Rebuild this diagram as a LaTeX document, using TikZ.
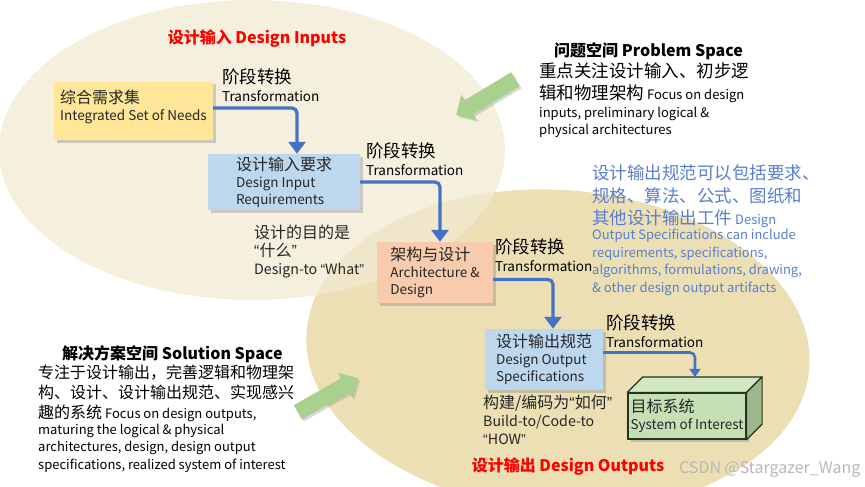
\documentclass[tikz,border=0pt]{standalone}
\usepackage{fontspec}
\setmainfont{Noto Sans CJK SC}
\newfontfamily\quotefont{Liberation Sans}
\usetikzlibrary{positioning, arrows.meta, shapes.arrows, shadows, calc}

\definecolor{inspacebg}{RGB}{242,235,210}
\definecolor{outspacebg}{RGB}{236,223,180}
\definecolor{needsfill}{RGB}{255,230,153}
\definecolor{reqfill}{RGB}{189,215,238}
\definecolor{archfill}{RGB}{248,203,173}
\definecolor{soifront}{RGB}{197,224,180}
\definecolor{soitop}{RGB}{210,232,196}
\definecolor{soiside}{RGB}{158,184,140}
\definecolor{soiline}{RGB}{34,52,34}
\definecolor{flowblue}{RGB}{68,114,196}
\definecolor{hintgreen}{RGB}{169,209,142}
\definecolor{specblue}{RGB}{88,126,210}

\newcommand{\zhbig}{\fontsize{17.5}{22}\selectfont}
\newcommand{\zhmid}{\fontsize{16}{20}\selectfont}
\newcommand{\enbox}{\fontsize{13.5}{17}\selectfont}
\newcommand{\entrans}{\fontsize{13.5}{18}\selectfont}
\newcommand{\enpara}{\fontsize{13}{17.5}\selectfont}
\newcommand{\ennote}{\fontsize{14.2}{18}\selectfont}
\newcommand{\headfont}{\bfseries\fontsize{16}{19}\selectfont}
\newcommand{\lquo}{{\quotefont “}}
\newcommand{\rquo}{{\quotefont ”}}

\tikzset{
    block/.style={inner sep=0pt, align=left, font=\enbox, text=black!85,
      drop shadow={shadow xshift=2.5pt, shadow yshift=-2.5pt, opacity=.35}},
    flow/.style={draw=flowblue, line width=3.2pt, rounded corners=5pt,
      -{Triangle[width=17pt, length=12pt]}},
    thinflow/.style={flow, line width=2.6pt, -{Triangle[width=11pt, length=8pt]}},
    stage/.style={inner sep=0pt, anchor=north west, align=left, font=\entrans},
    remark/.style={inner sep=0pt, anchor=north west, align=left, font=\enpara, text=black!85},
    heading/.style={inner sep=0pt, font=\headfont},
    hint/.style={single arrow, fill=hintgreen, anchor=tip, inner xsep=0pt, inner ysep=8pt,
      minimum height=69pt, single arrow head extend=6.5pt, single arrow tip angle=90,
      drop shadow={shadow xshift=2pt, shadow yshift=-2pt, opacity=.3}},
}

\begin{document}
\begin{tikzpicture}[x=1pt, y=-1pt]
    \useasboundingbox (0,0) rectangle (865,487);

    % problem and solution spaces
    \begin{scope}
      \clip (0,0) rectangle (865,487);
      \fill[outspacebg, rotate around={-4:(558,350)}] (558,350) ellipse [x radius=252, y radius=160];
      \fill[inspacebg, fill opacity=.75] (252,150) ellipse [x radius=253, y radius=150];
    \end{scope}

    \node[heading, text=red, anchor=north] (intitle) at (257,29) {设计输入 Design Inputs};
    \node[heading, text=red, anchor=north] (outtitle) at (568,457) {设计输出 Design Outputs};

    % stages
    \node[block, fill=needsfill, minimum width=159pt, minimum height=58pt, text depth=11pt] (needs) at (133.5,111)
      {{\zhmid 综合需求集}\\Integrated Set of Needs};
    \node[block, fill=reqfill, minimum width=152pt, minimum height=56pt] (inreq) at (284,182)
      {{\zhmid 设计输入要求}\\Design Input\\Requirements};
    \node[block, fill=archfill, minimum width=116pt, minimum height=61pt] (arch) at (435,272.5)
      {{\zhmid 架构与设计}\\Architecture \&\\Design};
    \node[block, fill=reqfill, minimum width=118pt, minimum height=61pt] (outspec) at (544,359.5)
      {{\zhmid 设计输出规范}\\Design Output\\Specifications};

    % system of interest as a box
    \node[block, fill=soifront, draw=soiline, line width=1.2pt, minimum width=118pt, minimum height=46pt] (soi) at (687,416)
      {{\zhmid 目标系统}\\System of Interest};
    \coordinate (soiback) at ($(soi.north east)+(15.5,-15.5)$);
    \filldraw[fill=soitop, draw=soiline, line width=1.2pt, line join=round]
      (soi.north west) -- ($(soi.north west)+(15.5,-15.5)$) -- (soiback) -- (soi.north east) -- cycle;
    \filldraw[fill=soiside, draw=soiline, line width=1.2pt, line join=round]
      (soi.north east) -- (soiback) -- ($(soi.south east)+(15.5,-15.5)$) -- (soi.south east) -- cycle;

    \draw[flow] ([yshift=3pt]needs.east) -| ([xshift=13pt]inreq.north);
    \draw[flow] (inreq.east) -| ([xshift=5pt]arch.north);
    \draw[flow] ([yshift=-7pt]arch.east) -| ([xshift=9pt]outspec.north);
    \draw[thinflow] ([yshift=7pt]outspec.east) -| ([xshift=8pt,yshift=15.5pt]soi.north);

    \node[stage] (stage1) at (222,68) {{\zhbig 阶段转换}\\Transformation};
    \node[stage] (stage2) at (366,142) {{\zhbig 阶段转换}\\Transformation};
    \node[stage] (stage3) at (495,238) {{\zhbig 阶段转换}\\Transformation};
    \node[stage] (stage4) at (606,314) {{\zhbig 阶段转换}\\Transformation};

    \node[remark, font=\ennote] (purpose) at (254,225) {{\zhmid 设计的目的是}\\{\zhmid \lquo 什么\rquo}\\Design-to \lquo What\rquo};
    \node[remark, font=\ennote] (how) at (483,395) {{\zhmid 构建/编码为\lquo 如何\rquo}\\Build-to/Code-to\\\lquo HOW\rquo};

    % problem space
    \node[heading, anchor=north west] (probtitle) at (554,42) {问题空间 Problem Space};
    \node[remark, text=black] (probtext) at (539,63)
      {{\zhbig 重点关注设计输入、初步逻}\\[4.5pt]
       {\zhbig 辑和物理架构} Focus on design\\
       inputs, preliminary logical \&\\
       physical architectures};
    \node[hint, rotate=211] (probarrow) at (456,115) {};

    \node[remark, text=specblue] (spectext) at (592,165)
      {{\zhbig 设计输出规范可以包括要求、}\\[5pt]
       {\zhbig 规格、算法、公式、图纸和}\\[4.5pt]
       {\zhbig 其他设计输出工件} Design\\[-2pt]
       Output Specifications can include\\
       requirements, specifications,\\
       algorithms, formulations, drawing,\\
       \& other design output artifacts};

    % solution space
    \node[heading, anchor=north west] (soltitle) at (62,345) {解决方案空间 Solution Space};
    \node[remark, text=black] (soltext) at (38,365)
      {{\zhmid 专注于设计输出，完善逻辑和物理架}\\[2.5pt]
       {\zhmid 构、设计、设计输出规范、实现感兴}\\[2.5pt]
       {\zhmid 趣的系统} Focus on design outputs,\\[-2pt]
       maturing the logical \& physical\\
       architectures, design, design output\\
       specifications, realized system of interest};
    \node[hint, rotate=29.7] (solarrow) at (358,378) {};

    \node[inner sep=0pt, anchor=north west, text=black!28, font=\fontsize{16}{18}\selectfont] (mark) at (679,461) {CSDN @Stargazer\_Wang};
\end{tikzpicture}
\end{document}
